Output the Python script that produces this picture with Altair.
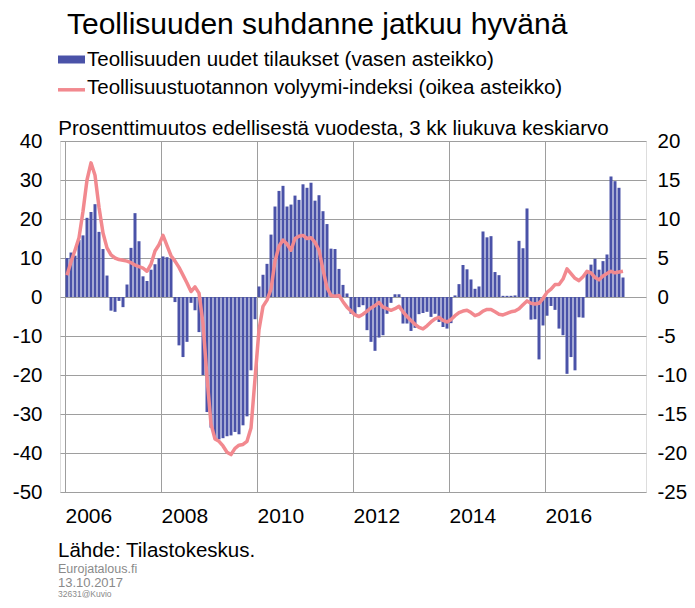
import altair as alt
import pandas as pd

# ---------------- data (monthly, Jan 2006 - Aug 2017) ----------------
start_year = 2006

# Teollisuuden uudet tilaukset, % (left scale)
orders = [
    10.0, 11.4, 10.6, 14.6, 15.8, 20.3, 21.8, 23.8, 16.7, 12.3, 5.5, -3.5,      # 2006
    -3.8, -1.0, -2.6, 3.2, 12.6, 21.5, 14.3, 5.3, 4.1, 7.0, 8.4, 9.9,           # 2007
    10.4, 10.2, 9.8, -1.3, -12.4, -15.4, -11.5, -1.5, -3.4, -9.0, -20.0, -29.5, # 2008
    -33.5, -36.3, -36.5, -36.2, -35.7, -35.5, -34.6, -35.2, -32.9, -30.6, -18.8, -5.7,  # 2009
    2.7, 5.7, 8.5, 16.0, 23.2, 27.2, 28.5, 23.2, 23.7, 26.0, 24.9, 28.9,        # 2010
    28.0, 29.3, 24.7, 26.1, 22.0, 18.7, 12.4, 12.3, 7.2, 3.1, 0.9, -4.3,        # 2011
    -4.7, -2.6, -2.1, -8.5, -11.5, -13.8, -10.4, -9.8, -4.3, -1.5, 0.7, 0.7,    # 2012
    -6.8, -6.8, -8.7, -7.9, -4.4, -4.1, -3.8, -5.1, -4.3, -6.4, -7.7, -8.1,     # 2013
    -6.7, 0.4, 3.3, 8.2, 7.1, 4.5, 2.1, 2.7, 16.8, 15.3, 15.6, 6.4,             # 2014
    5.6, 0.3, 0.3, 0.3, 0.4, 14.4, 12.5, 22.7, -5.8, -5.7, -16.0, -7.3,         # 2015
    -4.8, -2.3, -3.3, -8.1, -9.8, -19.7, -15.4, -18.8, -5.2, -5.3, 6.4, 8.3,    # 2016
    9.8, 7.0, 9.2, 10.9, 30.9, 29.7, 28.0, 5.0,                                 # 2017
]

# Teollisuustuotannon volyymi-indeksi, % (right scale)
production = [
    2.8, 4.5, 6.0, 7.6, 11.0, 15.0, 17.2, 15.6, 11.5, 8.2, 6.3, 5.4,            # 2006
    5.0, 4.8, 4.7, 4.6, 4.4, 4.1, 3.9, 3.7, 3.3, 4.2, 5.9, 6.7,                 # 2007
    7.9, 6.6, 5.3, 4.6, 3.8, 2.8, 1.8, 0.7, 1.3, 0.5, -3.4, -10.3,              # 2008
    -16.3, -18.2, -18.5, -19.1, -19.9, -20.2, -19.4, -19.0, -18.9, -18.5, -16.8, -10.5,  # 2009
    -4.2, -1.2, -0.4, 1.0, 4.6, 6.5, 7.3, 6.8, 6.0, 7.5, 7.8, 7.9,              # 2010
    7.5, 7.6, 7.0, 6.0, 3.5, 1.2, 0.2, 0.1, 0.2, -0.6, -1.3, -1.8,              # 2011
    -2.3, -2.5, -2.2, -1.8, -1.4, -1.1, -0.7, -1.3, -1.5, -1.7, -1.5, -1.2,     # 2012
    -1.9, -2.5, -3.0, -3.5, -3.9, -4.1, -3.7, -3.2, -2.8, -2.6, -3.0, -3.2,     # 2013
    -2.9, -2.4, -2.0, -1.8, -1.7, -2.0, -2.4, -2.2, -1.8, -1.6, -1.6, -1.9,     # 2014
    -2.2, -2.3, -2.1, -1.9, -1.8, -1.5, -1.0, -0.5, -0.8, -0.9, -0.8, -0.2,     # 2015
    0.6, 1.0, 1.6, 1.6, 2.3, 3.6, 3.0, 2.4, 2.1, 2.6, 3.3, 3.1,                 # 2016
    2.5, 2.2, 2.7, 3.0, 3.3, 3.1, 3.2, 3.3,                                     # 2017
]

left_ticks = list(range(-50, 41, 10))
right_ticks = list(range(-25, 21, 5))
year_ticks = list(range(2006, 2017, 2))

title_text = "Teollisuuden suhdanne jatkuu hyvänä"
legend_orders = "Teollisuuden uudet tilaukset (vasen asteikko)"
legend_prod = "Teollisuustuotannon volyymi-indeksi (oikea asteikko)"
subtitle_text = "Prosenttimuutos edellisestä vuodesta, 3 kk liukuva keskiarvo"
source_text = "Lähde: Tilastokeskus."
site_text = "Eurojatalous.fi"
date_text = "13.10.2017"
id_text = "32631@Kuvio"

# ---------------- build table ----------------
n = len(orders)
df = pd.DataFrame({
    "t": [start_year + (i + 0.5) / 12 for i in range(n)],
    "orders": orders,
    "production": production,
})

W, H = 586, 351
FONT = "Liberation Sans"
BAR = "#4a52a8"
LINE = "#f2898f"
GRID = "#9e9e9e"
PLAIN = "'' + datum.value"   # plain hyphen minus, as in the original

x_enc = alt.X(
    "t:Q",
    scale=alt.Scale(domain=[2006, 2018], nice=False, zero=False),
    axis=alt.Axis(values=year_ticks, format="d", labelAlign="left", grid=True,
                  ticks=False, domain=False, labelPadding=13, labelFontSize=21,
                  labelFont=FONT, labelColor="#000", gridColor=GRID, title=None,
                  labelFlush=False, labelOverlap=False),
)

bars = alt.Chart(df).mark_bar(size=3, color=BAR, orient="vertical").encode(
    x=x_enc,
    y=alt.Y("orders:Q", stack=None,
            scale=alt.Scale(domain=[-50, 40], nice=False, zero=False),
            axis=alt.Axis(values=left_ticks, orient="left", grid=True, gridColor=GRID,
                          ticks=False, domain=False, labelPadding=18, labelFontSize=20.5,
                          labelFont=FONT, labelColor="#000", title=None,
                          labelExpr=PLAIN, labelFlush=False, labelOverlap=False)),
)

line = alt.Chart(df).mark_line(color=LINE, strokeWidth=3.5, strokeJoin="round").encode(
    x=alt.X("t:Q"),
    y=alt.Y("production:Q",
            scale=alt.Scale(domain=[-25, 20], nice=False, zero=False),
            axis=alt.Axis(values=right_ticks, orient="right", grid=False,
                          ticks=False, domain=False, labelPadding=11, labelFontSize=20.5,
                          labelFont=FONT, labelColor="#000", title=None,
                          labelExpr=PLAIN, labelFlush=False, labelOverlap=False)),
)

one = alt.Data(values=[{}])


def txt(s, x, y, size, color="#000"):
    return alt.Chart(one).mark_text(
        text=s, font=FONT, fontSize=size, align="left", baseline="alphabetic", color=color
    ).encode(x=alt.value(x), y=alt.value(y))


legend_box = alt.Chart(one).mark_rect(color=BAR).encode(
    x=alt.value(-2), x2=alt.value(25), y=alt.value(-85.5), y2=alt.value(-77.5)
)
legend_line = alt.Chart(one).mark_rule(color=LINE, strokeWidth=3.5).encode(
    x=alt.value(-2), x2=alt.value(25), y=alt.value(-51.2)
)

chart = alt.layer(
    bars,
    line,
    txt(title_text, 7, -107.5, 30),
    legend_box,
    txt(legend_orders, 27, -75.5, 20.5),
    legend_line,
    txt(legend_prod, 27, -46.8, 20.5),
    txt(subtitle_text, -1.7, -5.7, 20.5),
    txt(source_text, -2, 416.0, 20.5),
    txt(site_text, -2, 431.5, 12.5, "#8a8a8a"),
    txt(date_text, -2, 445.6, 13, "#8a8a8a"),
    txt(id_text, -2, 456.0, 8.5, "#8a8a8a"),
).resolve_scale(y="independent").properties(
    width=W,
    height=H,
    autosize=alt.AutoSizeParams(type="none"),
    padding={"left": 52, "top": 133, "right": 41, "bottom": 108},
).configure_view(stroke="#555", strokeWidth=1).configure(background="white")

chart.save("out.html", embed_options={"renderer": "svg", "actions": False})
